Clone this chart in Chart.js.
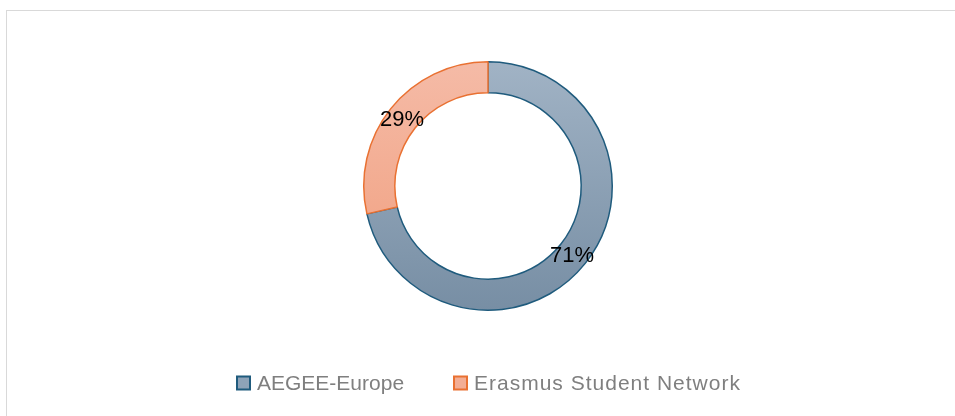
<!DOCTYPE html>
<html>
<head>
<meta charset="utf-8">
<script src="https://cdn.jsdelivr.net/npm/chart.js@4"></script>
<style>
  html, body { margin: 0; padding: 0; background: #fff; }
  #wrap { position: absolute; left: 0; top: 0; width: 955px; height: 416px; }
  #frame { position: absolute; left: 6px; top: 10px; width: 960px; height: 420px; border: 1.5px solid #d9d9d9; box-sizing: border-box; }
  canvas { position: absolute; left: 0; top: 0; }
</style>
</head>
<body>
<div id="wrap">
  <div id="frame"></div>
  <canvas id="chart" width="955" height="416"></canvas>
</div>
<script>
const categories = ['AEGEE-Europe', 'Erasmus Student Network'];
const shares = [71.4, 28.6];
const borderColors = ['#1f5b7d', '#e97132'];
const gradTop = ['#a1b3c5', '#f5bba7'];
const gradBottom = ['#778ea4', '#f09d7c'];
const legendFill = ['#8ea3b8', '#f3ae95'];

const FONT = '"Liberation Sans", Arial, sans-serif';

function fillFor(ctx) {
    const chart = ctx.chart;
    const area = chart.chartArea;
    if (!area) return gradTop[ctx.dataIndex];
    const g = chart.ctx.createLinearGradient(0, area.top, 0, area.bottom);
    g.addColorStop(0, gradTop[ctx.dataIndex]);
    g.addColorStop(1, gradBottom[ctx.dataIndex]);
    return g;
}

// percent labels in the middle of each ring segment
const pctLabels = {
    id: 'pctLabels',
    afterDatasetsDraw(chart) {
        const c = chart.ctx;
        const meta = chart.getDatasetMeta(0);
        const total = shares.reduce((a, b) => a + b, 0);
        c.save();
        c.font = '22px ' + FONT;
        c.fillStyle = '#000';
        c.textAlign = 'center';
        c.textBaseline = 'middle';
        meta.data.forEach((arc, i) => {
            const p = arc.tooltipPosition();
            c.fillText(Math.round(shares[i] / total * 100) + '%', p.x - 1, p.y + 2);
        });
        c.restore();
    }
};

// legend row under the ring
const bottomLegend = {
    id: 'bottomLegend',
    afterDraw(chart) {
        const c = chart.ctx;
        const boxX = [237, 454];
        const spacing = ['0px', '1px'];
        const y = 383;
        c.save();
        c.font = '21px ' + FONT;
        c.textBaseline = 'middle';
        categories.forEach((name, i) => {
            c.fillStyle = legendFill[i];
            c.strokeStyle = borderColors[i];
            c.lineWidth = 2;
            c.fillRect(boxX[i], y - 6.5, 13, 13);
            c.strokeRect(boxX[i], y - 6.5, 13, 13);
            c.fillStyle = '#7f7f7f';
            c.letterSpacing = spacing[i];
            c.fillText(name, boxX[i] + 20, y + 1);
        });
        c.restore();
    }
};

const data = {
    labels: categories,
    datasets: [{
        data: shares,
        backgroundColor: fillFor,
        borderColor: borderColors,
        borderWidth: 1.5
    }]
};

const config = {
    type: 'doughnut',
    data: data,
    options: {
        responsive: false,
        animation: false,
        cutout: '75%',
        layout: { padding: { left: 363, right: 342, top: 61, bottom: 105 } },
        plugins: {
            tooltip: { enabled: false },
            legend: { display: false }
        }
    },
    plugins: [pctLabels, bottomLegend]
};

let ctx = document.getElementById('chart').getContext('2d');
new Chart(ctx, config);
</script>
</body>
</html>
